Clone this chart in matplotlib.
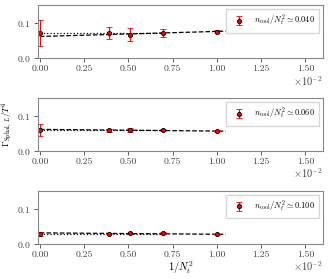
import numpy as np
import matplotlib
matplotlib.use("Agg")
import matplotlib.pyplot as plt

plt.rcParams['font.family'] = 'serif'
plt.rcParams['font.serif'] = ['cmr10', 'DejaVu Serif']
plt.rcParams['mathtext.fontset'] = 'cm'
plt.rcParams['axes.formatter.use_mathtext'] = True
plt.rcParams['axes.unicode_minus'] = False

# 1/Nt^2 of the lattices
inv_nt2 = [1 / 16**2, 1 / 14**2, 1 / 12**2, 1 / 10**2]

labels = [r'$n_{\rm cool}/N_t^2 \simeq 0.040$',
          r'$n_{\rm cool}/N_t^2 \simeq 0.060$',
          r'$n_{\rm cool}/N_t^2 \simeq 0.100$']

# lattice values and errors, one list per panel
rate_vals = [[0.072, 0.066, 0.070, 0.075],
             [0.059, 0.059, 0.060, 0.057],
             [0.029, 0.030, 0.031, 0.027]]
rate_errs = [[0.017, 0.019, 0.011, 0.003],
             [0.004, 0.005, 0.003, 0.002],
             [0.002, 0.002, 0.002, 0.002]]

# continuum extrapolations
cont_vals = [0.072, 0.059, 0.027]
cont_errs = [0.037, 0.016, 0.006]

# linear fit ends (x=0, x=0.0105) and constant fit values
lin_start = [0.061, 0.061, 0.031]
lin_end = [0.076, 0.056, 0.027]
const_vals = [0.072, 0.060, 0.029]

fig = plt.figure(figsize=(3.28, 2.79), dpi=100)
bottoms = [0.792, 0.459, 0.126]
h = 0.19

for i in range(3):
    ax = fig.add_axes([0.116, bottoms[i], 0.869, h])
    ax.plot([0, 0.0105], [lin_start[i], lin_end[i]], '--', color='k', lw=0.9)
    ax.plot([0, 0.0069], [const_vals[i], const_vals[i]], ':', color='k', lw=0.9)
    ax.errorbar(inv_nt2, rate_vals[i], yerr=rate_errs[i], fmt='o', ms=3,
                mfc='red', mec='k', mew=0.6, ecolor='red', elinewidth=0.9,
                capsize=2, capthick=0.9, label=labels[i])
    ax.errorbar([0], [cont_vals[i]], yerr=[cont_errs[i]], fmt='o', ms=3,
                mfc='red', mec='k', mew=0.6, ecolor='red', elinewidth=0.9,
                capsize=2, capthick=0.9)
    ax.set_xlim(-0.0001, 0.016)
    ax.set_ylim(0, 0.15)
    ax.set_yticks([0.0, 0.1])
    ax.set_xticks([0, 0.0025, 0.005, 0.0075, 0.01, 0.0125, 0.015])
    ax.set_xticklabels(['0.00', '0.25', '0.50', '0.75', '1.00', '1.25', '1.50'])
    ax.text(1.0, -0.30, r'$\times10^{-2}$', transform=ax.transAxes,
            ha='right', va='top', fontsize=7.5, color='#444444')
    ax.tick_params(labelsize=7, colors='#444444', length=3, width=0.6, pad=2)
    for s in ax.spines.values():
        s.set_color('#888888')
        s.set_linewidth(0.8)
    handles, labs = ax.get_legend_handles_labels()
    ax.legend(handles[-1:], labs[-1:], loc='upper right', fontsize=6,
              handletextpad=0.8, borderpad=0.5, fancybox=False,
              edgecolor='#cccccc')
    if i == 1:
        ax.set_ylabel(r'$\Gamma_{\rm Sphal,}{}_{L}/T^4$', fontsize=6.5)
        ax.yaxis.set_label_coords(-0.078, 0.5)
    if i == 2:
        ax.set_xlabel(r'$1/N_t^2$', fontsize=7.5, labelpad=0)

fig.savefig('out.png', dpi=100)
